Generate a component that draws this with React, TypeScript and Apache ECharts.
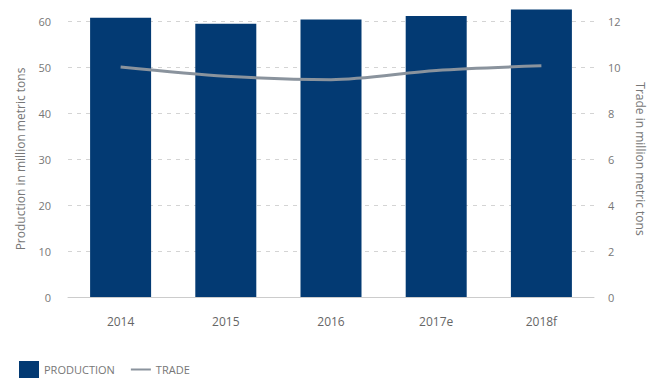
import React, { useEffect, useRef } from "react";
import * as echarts from "echarts";

const categories = ["2014", "2015", "2016", "2017e", "2018f"];
const production = [60.7, 59.4, 60.3, 61.1, 62.5];
const trade = [10.0, 9.6, 9.45, 9.85, 10.05];
const leftTicks = { min: 0, max: 60, interval: 10 };
const rightTicks = { min: 0, max: 12, interval: 2 };

export default function App() {
  const ref = useRef<HTMLDivElement>(null);
  useEffect(() => {
    const chart = echarts.init(ref.current!, null, { renderer: "svg" });
    const font = "'Open Sans', sans-serif";
    const grid = { lineStyle: { color: "#d4d4d4", type: [4, 5] as any, width: 1 } };
    chart.setOption({
      animation: false,
      textStyle: { fontFamily: font },
      grid: { left: 68, right: 53, top: 21, bottom: 84 },
      legend: {
        left: 14,
        bottom: -2,
        itemGap: 16,
        itemWidth: 20,
        itemHeight: 17,
        textStyle: { color: "#777", fontSize: 11, fontFamily: font },
        data: [
          { name: "PRODUCTION", icon: "rect" },
          { name: "TRADE", icon: "path://M0,7.5H20V9.5H0Z" },
        ],
      },
      xAxis: {
        type: "category",
        data: categories,
        axisLine: { show: true, lineStyle: { color: "#ccc" } },
        axisTick: { show: false },
        axisLabel: { color: "#666", fontSize: 12, margin: 18 },
      },
      yAxis: [
        {
          type: "value",
          ...leftTicks,
          name: "Production in million metric tons",
          nameLocation: "middle",
          nameGap: 42,
          nameTextStyle: { color: "#777", fontSize: 12 },
          axisLabel: { color: "#777", fontSize: 11, margin: 17 },
          splitLine: grid,
          axisLine: { show: false },
        },
        {
          type: "value",
          ...rightTicks,
          name: "Trade in million metric tons",
          nameLocation: "middle",
          nameGap: 40,
          nameRotate: -90,
          nameTextStyle: { color: "#777", fontSize: 12 },
          axisLabel: { color: "#777", fontSize: 11, margin: 14 },
          splitLine: { show: false },
          axisLine: { show: false },
        },
      ],
      series: [
        {
          name: "PRODUCTION",
          type: "bar",
          data: production,
          barWidth: 61,
          clip: false,
          itemStyle: { color: "#033a73" },
        },
        {
          name: "TRADE",
          type: "line",
          yAxisIndex: 1,
          data: trade,
          smooth: 0.3,
          symbol: "none",
          lineStyle: { color: "#8a939d", width: 3 },
          itemStyle: { color: "#8a939d" },
        },
      ],
    });
    return () => chart.dispose();
  }, []);
  return <div ref={ref} style={{ width: 654, height: 381, position: "absolute", left: 0, top: 0 }} />;
}
